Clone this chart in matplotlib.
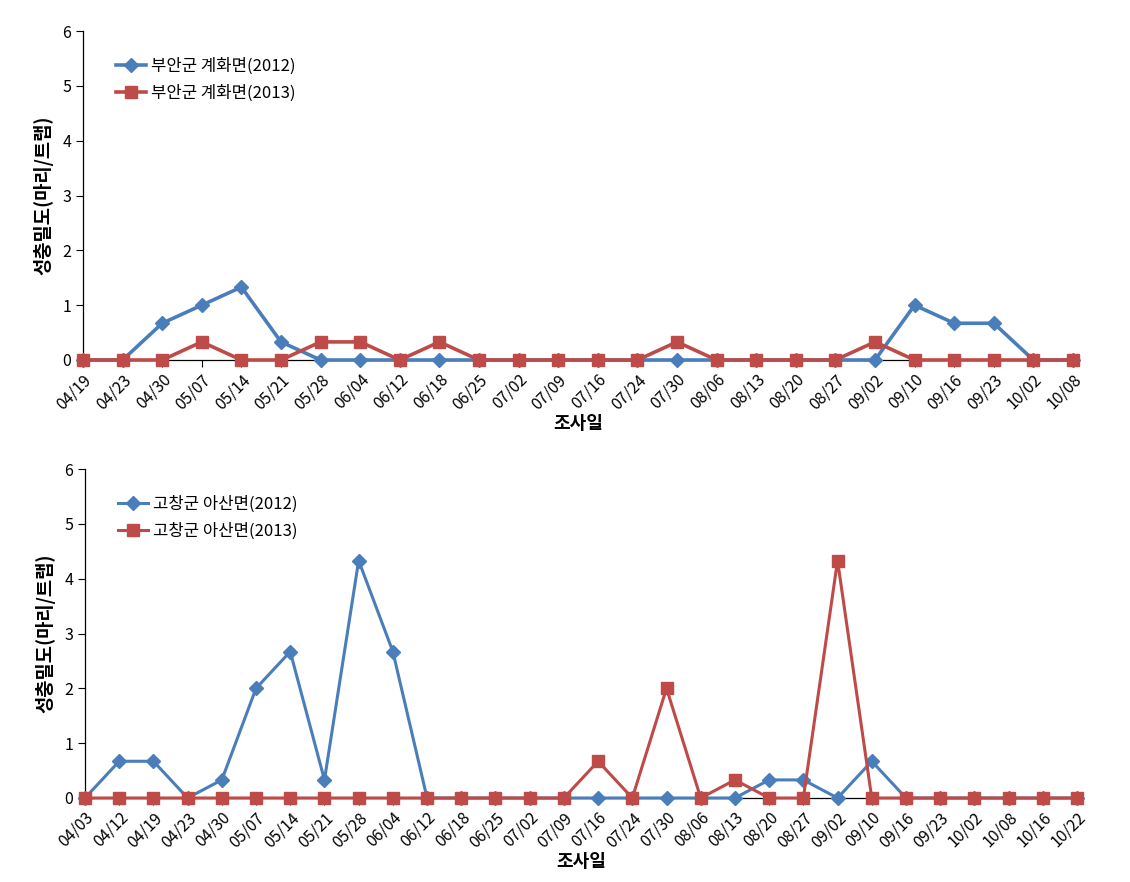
import matplotlib
matplotlib.use("Agg")
import matplotlib.pyplot as plt

plt.rcParams['font.family'] = ['Noto Sans CJK KR', 'DejaVu Sans']

# ---- Data: top panel (부안군 계화면) ----
dates_top = ["04/19", "04/23", "04/30", "05/07", "05/14", "05/21", "05/28", "06/04",
             "06/12", "06/18", "06/25", "07/02", "07/09", "07/16", "07/24", "07/30",
             "08/06", "08/13", "08/20", "08/27", "09/02", "09/10", "09/16", "09/23",
             "10/02", "10/08"]
buan_2012 = [0, 0, 0.67, 1.0, 1.33, 0.33, 0, 0, 0, 0, 0, 0, 0, 0, 0, 0,
             0, 0, 0, 0, 0, 1.0, 0.67, 0.67, 0, 0]
buan_2013 = [0, 0, 0, 0.33, 0, 0, 0.33, 0.33, 0, 0.33, 0, 0, 0, 0, 0, 0.33,
             0, 0, 0, 0, 0.33, 0, 0, 0, 0, 0]

# ---- Data: bottom panel (고창군 아산면) ----
dates_bot = ["04/03", "04/12", "04/19", "04/23", "04/30", "05/07", "05/14", "05/21",
             "05/28", "06/04", "06/12", "06/18", "06/25", "07/02", "07/09", "07/16",
             "07/24", "07/30", "08/06", "08/13", "08/20", "08/27", "09/02", "09/10",
             "09/16", "09/23", "10/02", "10/08", "10/16", "10/22"]
gochang_2012 = [0, 0.67, 0.67, 0, 0.33, 2.0, 2.67, 0.33, 4.33, 2.67, 0, 0, 0, 0, 0, 0,
                0, 0, 0, 0, 0.33, 0.33, 0, 0.67, 0, 0, 0, 0, 0, 0]
gochang_2013 = [0, 0, 0, 0, 0, 0, 0, 0, 0, 0, 0, 0, 0, 0, 0, 0.67,
                0, 2.0, 0, 0.33, 0, 0, 4.33, 0, 0, 0, 0, 0, 0, 0]

labels_top = ["부안군 계화면(2012)", "부안군 계화면(2013)"]
labels_bot = ["고창군 아산면(2012)", "고창군 아산면(2013)"]
ytick_vals = [0, 1, 2, 3, 4, 5, 6]
xlabel = "조사일"
ylabel = "성충밀도(마리/트랩)"

BLUE = "#4A7EBB"
RED = "#BE4B48"

W, H = 1130, 882
fig = plt.figure(figsize=(W / 100, H / 100), dpi=100)


def panel(rect, dates, s1, s2, labels, lw):
    ax = fig.add_axes(rect)
    x = list(range(len(dates)))
    ax.plot(x, s1, color=BLUE, lw=lw, marker="D", markersize=7,
            label=labels[0], clip_on=False, zorder=3)
    ax.plot(x, s2, color=RED, lw=lw, marker="s", markersize=9,
            label=labels[1], clip_on=False, zorder=4)
    ax.set_xlim(0, len(dates) - 1)
    ax.set_ylim(0, 6)
    ax.set_yticks(ytick_vals)
    ax.set_yticklabels([str(v) for v in ytick_vals], fontsize=11.5)
    ax.set_xticks(x)
    ax.set_xticklabels(dates, rotation=45, ha="right", rotation_mode="anchor",
                       fontsize=11.5)
    ax.tick_params(axis="both", direction="out", length=5, width=0.8, colors="black")
    ax.tick_params(axis="x", pad=3)
    for s in ("top", "right"):
        ax.spines[s].set_visible(False)
    ax.spines["left"].set_linewidth(0.9)
    ax.spines["bottom"].set_linewidth(0.9)
    ax.set_xlabel(xlabel, fontsize=13, fontweight="bold", labelpad=1)
    ax.set_ylabel(ylabel, fontsize=13.5, fontweight="bold", labelpad=6)
    ax.legend(loc="upper left", bbox_to_anchor=(0.018, 0.965), frameon=False,
              fontsize=12, handlelength=1.8, labelspacing=0.6,
              handletextpad=0.3)
    return ax


top_rect = [83 / W, 1 - 360 / H, (1073 - 83) / W, (360 - 31) / H]
bot_rect = [85 / W, 1 - 798 / H, (1077 - 85) / W, (798 - 469) / H]

panel(top_rect, dates_top, buan_2012, buan_2013, labels_top, 2.6)
panel(bot_rect, dates_bot, gochang_2012, gochang_2013, labels_bot, 2.2)

fig.savefig("out.png", dpi=100, facecolor="white")
